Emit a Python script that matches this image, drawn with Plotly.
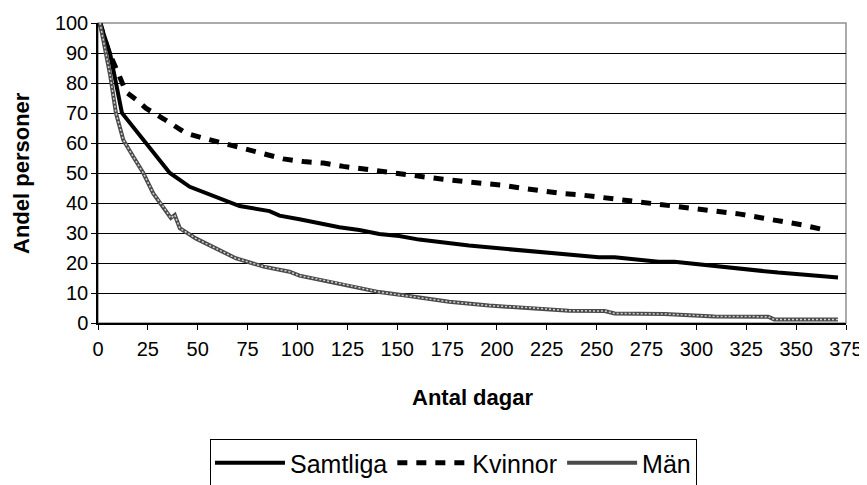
import plotly.graph_objects as go

# Data
samt_x = [1, 6, 12, 23, 36, 46, 59, 71, 86, 91, 101, 111, 121, 131, 141, 151, 161, 186, 211, 236, 251, 259, 281, 289, 311, 341, 371]
samt_y = [100, 90, 70, 61, 50, 45.4, 42, 39, 37.3, 35.8, 34.6, 33.3, 31.9, 31, 29.7, 29, 27.8, 25.8, 24.2, 22.7, 21.9, 21.9, 20.4, 20.4, 18.8, 16.8, 15.2]

kv_x = [1, 5, 10, 14, 20, 24, 33, 44, 53, 63, 74, 93, 103, 113, 123, 133, 143, 153, 163, 173, 183, 193, 203, 213, 222, 232, 242, 252, 262, 272, 282, 292, 302, 312, 322, 333, 343, 353, 366]
kv_y = [100, 91, 83.5, 77, 74, 71.6, 68, 63.3, 61.6, 59.8, 58, 54.7, 53.8, 53.3, 52.2, 51.3, 50.6, 49.4, 48.6, 47.9, 47.2, 46.6, 45.9, 44.9, 43.9, 43.2, 42.7, 41.9, 41.3, 40.7, 39.9, 39.1, 38.2, 37.2, 36.3, 35, 33.9, 32.7, 30.8]

man_x = [1, 3.5, 6, 9, 12.7, 17.7, 22.7, 27.7, 32.7, 36.5, 38.5, 41, 49, 59, 69, 83, 96, 101, 121, 141, 156, 176, 196, 216, 236, 254, 259, 284, 309, 336, 339, 371]
man_y = [100, 92, 83, 70, 61, 55.4, 50, 43.2, 38.8, 35, 36, 31.6, 28.2, 24.9, 21.6, 18.8, 17.1, 15.8, 13.2, 10.3, 9, 7.1, 5.8, 5.1, 4.1, 4, 3.2, 3, 2.2, 2.1, 1.2, 1.2]

x_ticks = [0, 25, 50, 75, 100, 125, 150, 175, 200, 225, 250, 275, 300, 325, 350, 375]
y_ticks = [0, 10, 20, 30, 40, 50, 60, 70, 80, 90, 100]

FONT = "Liberation Sans, Arial, sans-serif"

fig = go.Figure()
fig.add_trace(go.Scatter(x=samt_x, y=samt_y, mode="lines", name="Samtliga",
                         line=dict(color="black", width=4)))
fig.add_trace(go.Scatter(x=kv_x, y=kv_y, mode="lines", name="Kvinnor",
                         line=dict(color="black", width=5, dash="10px,9px")))
fig.add_trace(go.Scatter(x=man_x, y=man_y, mode="lines", name="Män", legendgroup="man",
                         line=dict(color="#4a4a4a", width=4)))
fig.add_trace(go.Scatter(x=man_x, y=man_y, mode="lines", name="Män", legendgroup="man",
                         showlegend=False, hoverinfo="skip",
                         line=dict(color="#d0d0d0", width=1.5, dash="2px,2px")))

fig.update_layout(
    template="none",
    width=867, height=485,
    margin=dict(l=90, r=29, t=15, b=170, pad=0, autoexpand=False),
    paper_bgcolor="white", plot_bgcolor="white",
    font=dict(family=FONT, size=20, color="black"),
    showlegend=True,
    legend=dict(orientation="h", x=0.1497, xanchor="left", y=-0.387, yanchor="top",
                bordercolor="black", borderwidth=1, font=dict(size=25),
                itemwidth=70, tracegroupgap=0, bgcolor="white"),
    shapes=[dict(type="rect", xref="paper", yref="paper", x0=0, x1=1, y0=0, y1=1,
                 line=dict(color="#909090", width=1.5), layer="between")],
    annotations=[
        dict(text="<b>Andel personer</b>", xref="paper", yref="paper", x=-0.103, y=0.5,
             xanchor="center", yanchor="middle",
             textangle=-90, showarrow=False, font=dict(size=22)),
        dict(text="<b>Antal dagar</b>", xref="paper", yref="paper", x=0.5, y=-0.247,
             xanchor="center", yanchor="middle",
             showarrow=False, font=dict(size=22)),
    ],
)
fig.update_xaxes(range=[0, 375], tickvals=x_ticks, ticks="outside", ticklen=5, tickcolor="black",
                 showgrid=False, zeroline=False, showline=True, linecolor="black", linewidth=1.5,
                 ticklabelstandoff=2, automargin=False)
fig.update_yaxes(range=[0, 100], tickvals=y_ticks, ticks="outside", ticklen=5, tickcolor="black",
                 showgrid=True, gridcolor="black", gridwidth=1, zeroline=False,
                 showline=True, linecolor="black", linewidth=1.5, automargin=False,
                 ticklabelstandoff=-1)

fig.write_html("out.html")
